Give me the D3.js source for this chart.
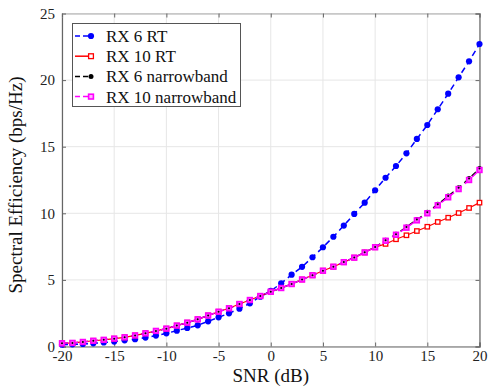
<!DOCTYPE html>
<html><head><meta charset="utf-8">
<script src="https://cdn.jsdelivr.net/npm/d3@7"></script>
<style>body{margin:0;background:#fff}svg{display:block}</style>
</head><body>
<script>
const snr = d3.range(-20, 21);
const rx6RT = [0.14,0.16,0.19,0.24,0.30,0.37,0.46,0.55,0.67,0.82,0.99,1.19,1.39,1.59,1.89,2.19,2.49,2.84,3.24,3.74,4.17,4.74,5.39,5.98,6.70,7.45,8.24,9.08,9.95,10.80,11.73,12.67,13.55,14.50,15.58,16.63,17.81,18.98,20.21,21.41,22.71];
const rx10NB = [0.24,0.27,0.34,0.43,0.50,0.59,0.69,0.83,0.99,1.17,1.34,1.57,1.79,2.04,2.33,2.61,2.87,3.19,3.49,3.79,4.11,4.39,4.69,5.03,5.35,5.69,5.99,6.33,6.67,7.06,7.45,7.94,8.39,8.92,9.47,10.00,10.60,11.20,11.82,12.50,13.25];
const rx6NB = [0.24,0.27,0.34,0.43,0.50,0.59,0.69,0.83,0.99,1.17,1.34,1.57,1.79,2.04,2.33,2.61,2.87,3.19,3.49,3.79,4.11,4.39,4.69,5.03,5.35,5.69,5.99,6.34,6.68,7.08,7.47,7.97,8.43,8.97,9.53,10.07,10.68,11.29,11.92,12.61,13.37];
const rx10RT = [0.24,0.27,0.34,0.43,0.50,0.59,0.69,0.83,0.99,1.17,1.34,1.57,1.79,2.04,2.33,2.61,2.87,3.19,3.49,3.79,4.11,4.39,4.69,5.03,5.35,5.69,5.99,6.33,6.67,7.06,7.45,7.70,8.05,8.35,8.67,8.99,9.35,9.67,10.02,10.40,10.80];
const xTicks = [-20,-15,-10,-5,0,5,10,15,20];
const yTicks = [0,5,10,15,20,25];
const legendLabels = ["RX 6 RT","RX 10 RT","RX 6 narrowband","RX 10 narrowband"];

const W = 491, H = 387;
const L = 62, R = 479.5, T = 13.5, B = 346.5;
const svg = d3.select("body").append("svg").attr("width", W).attr("height", H);
const x = d3.scaleLinear().domain([-20, 20]).range([L, R]);
const y = d3.scaleLinear().domain([0, 25]).range([B, T]);
const font = "'Liberation Serif','Times New Roman',serif";

// grid
const g = svg.append("g");
g.selectAll(".gx").data(xTicks).join("line")
  .attr("x1", d => x(d)).attr("x2", d => x(d)).attr("y1", T).attr("y2", B)
  .attr("stroke", "#e6e6e6").attr("stroke-width", 1);
g.selectAll(".gy").data(yTicks).join("line")
  .attr("y1", d => y(d)).attr("y2", d => y(d)).attr("x1", L).attr("x2", R)
  .attr("stroke", "#e6e6e6").attr("stroke-width", 1);

// axes
const ax = svg.append("g").attr("transform", `translate(0,${B})`)
  .call(d3.axisBottom(x).tickValues(xTicks).tickSize(-4).tickPadding(4).tickFormat(d3.format("d")));
const ay = svg.append("g").attr("transform", `translate(${L},0)`)
  .call(d3.axisLeft(y).tickValues(yTicks).tickSize(-4).tickPadding(7));
const axTop = svg.append("g").attr("transform", `translate(0,${T})`)
  .call(d3.axisTop(x).tickValues(xTicks).tickSize(-4).tickFormat(""));
const ayR = svg.append("g").attr("transform", `translate(${R},0)`)
  .call(d3.axisRight(y).tickValues(yTicks).tickSize(-4).tickFormat(""));
[ax, ay, axTop, ayR].forEach(a => {
  a.select(".domain").attr("stroke", "#666").attr("stroke-width", 1.2);
  a.selectAll(".tick line").attr("stroke", "#666");
  a.selectAll("text").attr("font-family", font).attr("font-size", 15).attr("fill", "#222");
});
axTop.select(".domain").attr("stroke", "#aaa");
ax.selectAll(".tick text").text(d => d < 0 ? "-" + Math.abs(d) : d);

// series
const line = d3.line().x((d, i) => x(snr[i])).y(d => y(d));
function drawLine(data, color, dash, w) {
  svg.append("path").datum(data).attr("d", line).attr("fill", "none")
    .attr("stroke", color).attr("stroke-width", w).attr("stroke-dasharray", dash);
}
// blue
drawLine(rx6RT, "#0000ff", "6,4", 1.5);
svg.append("g").selectAll("circle").data(rx6RT).join("circle")
  .attr("cx", (d, i) => x(snr[i])).attr("cy", d => y(d)).attr("r", 3.1).attr("fill", "#0000ff");
// red
drawLine(rx10RT, "#ff0000", null, 1.2);
svg.append("g").selectAll("rect").data(rx10RT).join("rect")
  .attr("x", (d, i) => x(snr[i]) - 2.2).attr("y", d => y(d) - 2.2).attr("width", 4.4).attr("height", 4.4)
  .attr("fill", "#fff").attr("stroke", "#ff0000").attr("stroke-width", 1.3);
// black
drawLine(rx6NB, "#000", "6,4", 1.3);
svg.append("g").selectAll("circle").data(rx6NB).join("circle")
  .attr("cx", (d, i) => x(snr[i])).attr("cy", d => y(d)).attr("r", 2.5).attr("fill", "#000");
// magenta
drawLine(rx10NB, "#ff00ff", "6,4", 1.5);
svg.append("g").selectAll("rect").data(rx10NB).join("rect")
  .attr("x", (d, i) => x(snr[i]) - 2.4).attr("y", d => y(d) - 2.4).attr("width", 4.8).attr("height", 4.8)
  .attr("fill", "#ff55ff").attr("stroke", "#ff00ff").attr("stroke-width", 1.6);
svg.append("g").selectAll("circle").data(rx6NB).join("circle")
  .attr("cx", (d, i) => x(snr[i])).attr("cy", d => y(d)).attr("r", 1).attr("fill", "#000");

// legend
const lg = svg.append("g");
lg.append("rect").attr("x", 72.5).attr("y", 23.5).attr("width", 168).attr("height", 83)
  .attr("fill", "#fff").attr("stroke", "#555").attr("stroke-width", 1);
const styles = [
  {c: "#0000ff", dash: "5,3", m: "circle", fill: "#0000ff"},
  {c: "#ff0000", dash: null, m: "square", fill: "#fff"},
  {c: "#000", dash: "5,3", m: "circle", fill: "#000", r: 2.5},
  {c: "#ff00ff", dash: "5,3", m: "square", fill: "#ffb0ff"}
];
legendLabels.forEach((lab, i) => {
  const cy = 36 + i * 20.2;
  const s = styles[i];
  lg.append("line").attr("x1", 75).attr("x2", 91).attr("y1", cy).attr("y2", cy)
    .attr("stroke", s.c).attr("stroke-width", 1.5).attr("stroke-dasharray", s.dash);
  if (s.m === "circle") {
    lg.append("circle").attr("cx", 91).attr("cy", cy).attr("r", s.r || 3.1).attr("fill", s.fill);
  } else {
    lg.append("rect").attr("x", 88.6).attr("y", cy - 2.4).attr("width", 4.8).attr("height", 4.8)
      .attr("fill", s.fill).attr("stroke", s.c).attr("stroke-width", i === 3 ? 1.6 : 1.3);
  }
  lg.append("text").attr("x", 106).attr("y", cy + 6).text(lab)
    .attr("font-family", font).attr("font-size", 17).attr("fill", "#111");
});

// labels
svg.append("text").attr("x", (L + R) / 2).attr("y", 381.5).attr("text-anchor", "middle")
  .attr("font-family", font).attr("font-size", 19).attr("fill", "#111").text("SNR (dB)");
svg.append("text").attr("transform", `translate(22,${(T + B) / 2 + 5}) rotate(-90)`)
  .attr("text-anchor", "middle").attr("font-family", font).attr("font-size", 19).attr("fill", "#111")
  .text("Spectral Efficiency (bps/Hz)");
</script>
</body></html>
